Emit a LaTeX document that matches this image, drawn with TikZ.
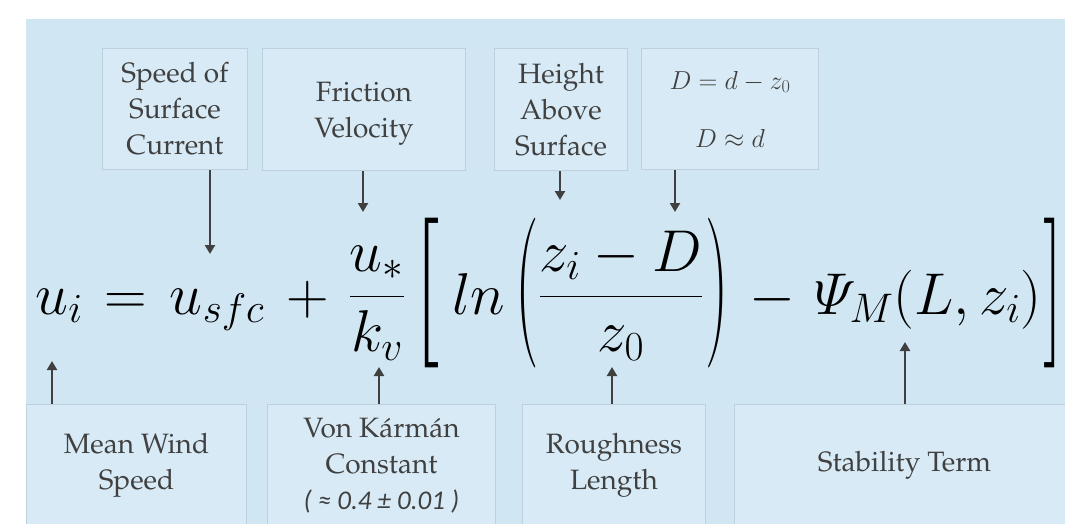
\RequirePackage{fix-cm}
\documentclass[tikz,border=0pt]{standalone}
\usepackage[T1,TU]{fontenc}
\usepackage{amsmath}
\usepackage{graphicx}
\usepackage{fontspec}
\newfontfamily\carl{Carlito}
\usetikzlibrary{arrows.meta}
\definecolor{bg}{RGB}{209,230,243}
\definecolor{boxfill}{RGB}{215,234,245}
\definecolor{boxline}{RGB}{190,208,222}
\definecolor{ink}{RGB}{64,64,64}
\newcommand{\pal}{\fontencoding{T1}\fontfamily{ppl}\selectfont}
\newcommand{\bigdelim}[2]{\scalebox{#1}[2.5]{#2}}
\tikzset{
  lbl/.style={draw=boxline, fill=boxfill, line width=1pt, text=ink, align=center,
    font=\pal\fontsize{28}{36}\selectfont, inner sep=0pt, anchor=north west},
  arr/.style={draw=ink, line width=2.3pt, -{Triangle[width=10pt,length=9pt]}},
  eqp/.style={inner sep=0pt, text=black, font=\fontsize{59}{66}\selectfont, anchor=base},
  eqd/.style={inner sep=0pt, text=black, font=\fontencoding{OT1}\fontfamily{cmr}\fontsize{60}{66}\selectfont, anchor=center}
}
\begin{document}
\begin{tikzpicture}[x=1pt,y=-1pt]
\useasboundingbox (0,0) rectangle (1065,524);
\clip (0,0) rectangle (1065,524);
\fill[bg] (26,19) rectangle (1065,524);
% top boxes
\node[lbl, minimum width=145pt, minimum height=121pt] (b1) at (102,48) {Speed of\\Surface\\Current};
\node[lbl, minimum width=203pt, minimum height=122pt, text depth=-6pt] (b2) at (262,48) {Friction\\Velocity};
\node[lbl, minimum width=133pt, minimum height=122pt] (b3) at (494,48) {Height\\Above\\Surface};
\node[lbl, minimum width=177pt, minimum height=121pt, font=\fontsize{26}{58}\selectfont] (b4) at (641,48) {$D = d - z_0$\\$D \approx d$};
% bottom boxes
\node[lbl, minimum width=220pt, minimum height=122pt] (m1) at (26,404) {Mean Wind\\Speed};
\node[lbl, minimum width=228pt, minimum height=122pt] (m2) at (267,404) {Von K\'arm\'an\\Constant\\{\carl\itshape\fontsize{27}{36}\selectfont ( ≈ 0.4 ± 0.01 )}};
\node[lbl, minimum width=183pt, minimum height=122pt] (m3) at (522,404) {Roughness\\Length};
\node[lbl, minimum width=340pt, minimum height=122pt] (m4) at (734,404) {Stability Term};
% equation pieces
\node[eqp] (e1) at (59,314) {$u_i$};
\node[eqp] (e2) at (126,314) {$=$};
\node[eqp] (e3) at (217,314) {$u_{sfc}$};
\node[eqp] (e4) at (308,314) {$+$};
\node[eqp] (e5) at (377,311) {$\dfrac{u_*}{k_v}$};
\node[eqd] (e6) at (427,293) {\bigdelim{1.7}{[}};
\node[eqp] (e7) at (479,314) {$ln$};
\node[eqd] (e8) at (527,293) {\bigdelim{1.1}{(}};
\node[eqp] (e9) at (621,311) {$\dfrac{z_i - D}{z_0}$};
\node[eqd] (e10) at (717,293) {\bigdelim{1.1}{)}};
\node[eqp] (e11) at (772,314) {$-$};
\node[eqp] (e12) at (928,314) {$\varPsi_M(L, z_i)$};
\node[eqd, anchor=west] (e13) at (1043,293) {\bigdelim{1.3}{]}};
% arrow tips
\coordinate (t1) at (210,254);
\coordinate (t2) at (363,212);
\coordinate (t3) at (560,200);
\coordinate (t4) at (675,212);
\coordinate (s1) at (52,361);
\coordinate (s2) at (379,367);
\coordinate (s3) at (612,367);
\coordinate (s4) at (905,342);
\draw[arr] (b1.south -| t1) -- (t1);
\draw[arr] (b2.south -| t2) -- (t2);
\draw[arr] (b3.south -| t3) -- (t3);
\draw[arr] (b4.south -| t4) -- (t4);
\draw[arr] (m1.north -| s1) -- (s1);
\draw[arr] (m2.north -| s2) -- (s2);
\draw[arr] (m3.north -| s3) -- (s3);
\draw[arr] (m4.north -| s4) -- (s4);
\end{tikzpicture}
\end{document}
